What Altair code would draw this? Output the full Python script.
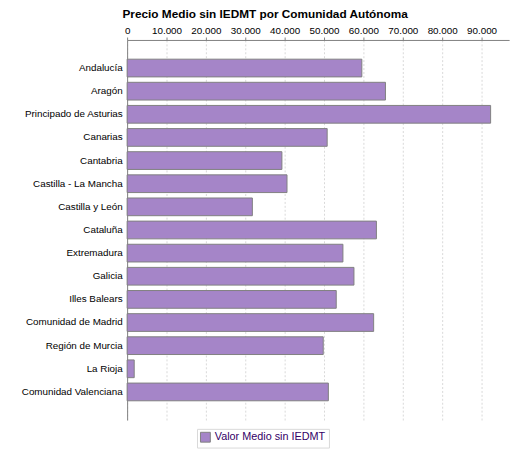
import altair as alt
import pandas as pd

comunidades = [
    "Andalucía", "Aragón", "Principado de Asturias", "Canarias", "Cantabria",
    "Castilla - La Mancha", "Castilla y León", "Cataluña", "Extremadura",
    "Galicia", "Illes Balears", "Comunidad de Madrid", "Región de Murcia",
    "La Rioja", "Comunidad Valenciana",
]
valores = [
    59600, 65600, 92300, 50800, 39300,
    40600, 31800, 63300, 54800,
    57600, 53100, 62600, 49800,
    1800, 51100,
]
serie = "Valor Medio sin IEDMT"
ticks = [0, 10000, 20000, 30000, 40000, 50000, 60000, 70000, 80000, 90000]

df = pd.DataFrame({"comunidad": comunidades, "valor": valores, "serie": serie})

bars = alt.Chart(df).mark_bar(stroke="#808080", strokeWidth=1).encode(
    y=alt.Y("comunidad:N", sort=comunidades, title=None,
            scale=alt.Scale(paddingInner=0.234, paddingOuter=0.83),
            axis=alt.Axis(ticks=False, labelPadding=5, domainColor="#808080",
                          labelFont="Liberation Sans", labelFontSize=10,
                          labelColor="#000000", grid=False)),
    x=alt.X("valor:Q", title=None,
            scale=alt.Scale(domain=[0, 97000], nice=False),
            axis=alt.Axis(orient="top", values=ticks, tickSize=3,
                          tickColor="#808080", domainColor="#808080",
                          labelFont="Liberation Sans", labelFontSize=10,
                          labelColor="#000000", labelFlush=False,
                          gridColor="#d8d8d8", gridDash=[2, 2],
                          labelExpr="replace(format(datum.value, ','), ',', '.')")),
    color=alt.Color("serie:N", title=None,
                    scale=alt.Scale(domain=[serie], range=["#a585c8"]),
                    legend=alt.Legend(orient="none", legendX=71, legendY=395,
                                      symbolType="square", symbolSize=100,
                                      symbolStrokeColor="#808080", symbolStrokeWidth=1,
                                      labelFont="Liberation Sans", labelFontSize=11,
                                      labelColor="#330066", strokeColor="#d8d8d8",
                                      padding=3)),
).properties(
    width=388,
    height=386,
    title=alt.TitleParams("Precio Medio sin IEDMT por Comunidad Autónoma",
                          font="Liberation Sans", fontSize=12, fontWeight="bold",
                          anchor="middle", frame="bounds", offset=4),
    autosize=alt.AutoSizeParams(type="none"),
    padding={"left": 121, "top": 29, "right": 8, "bottom": 27},
).configure_view(stroke=None)

bars.save("out.html", embed_options={"renderer": "svg", "actions": False})
